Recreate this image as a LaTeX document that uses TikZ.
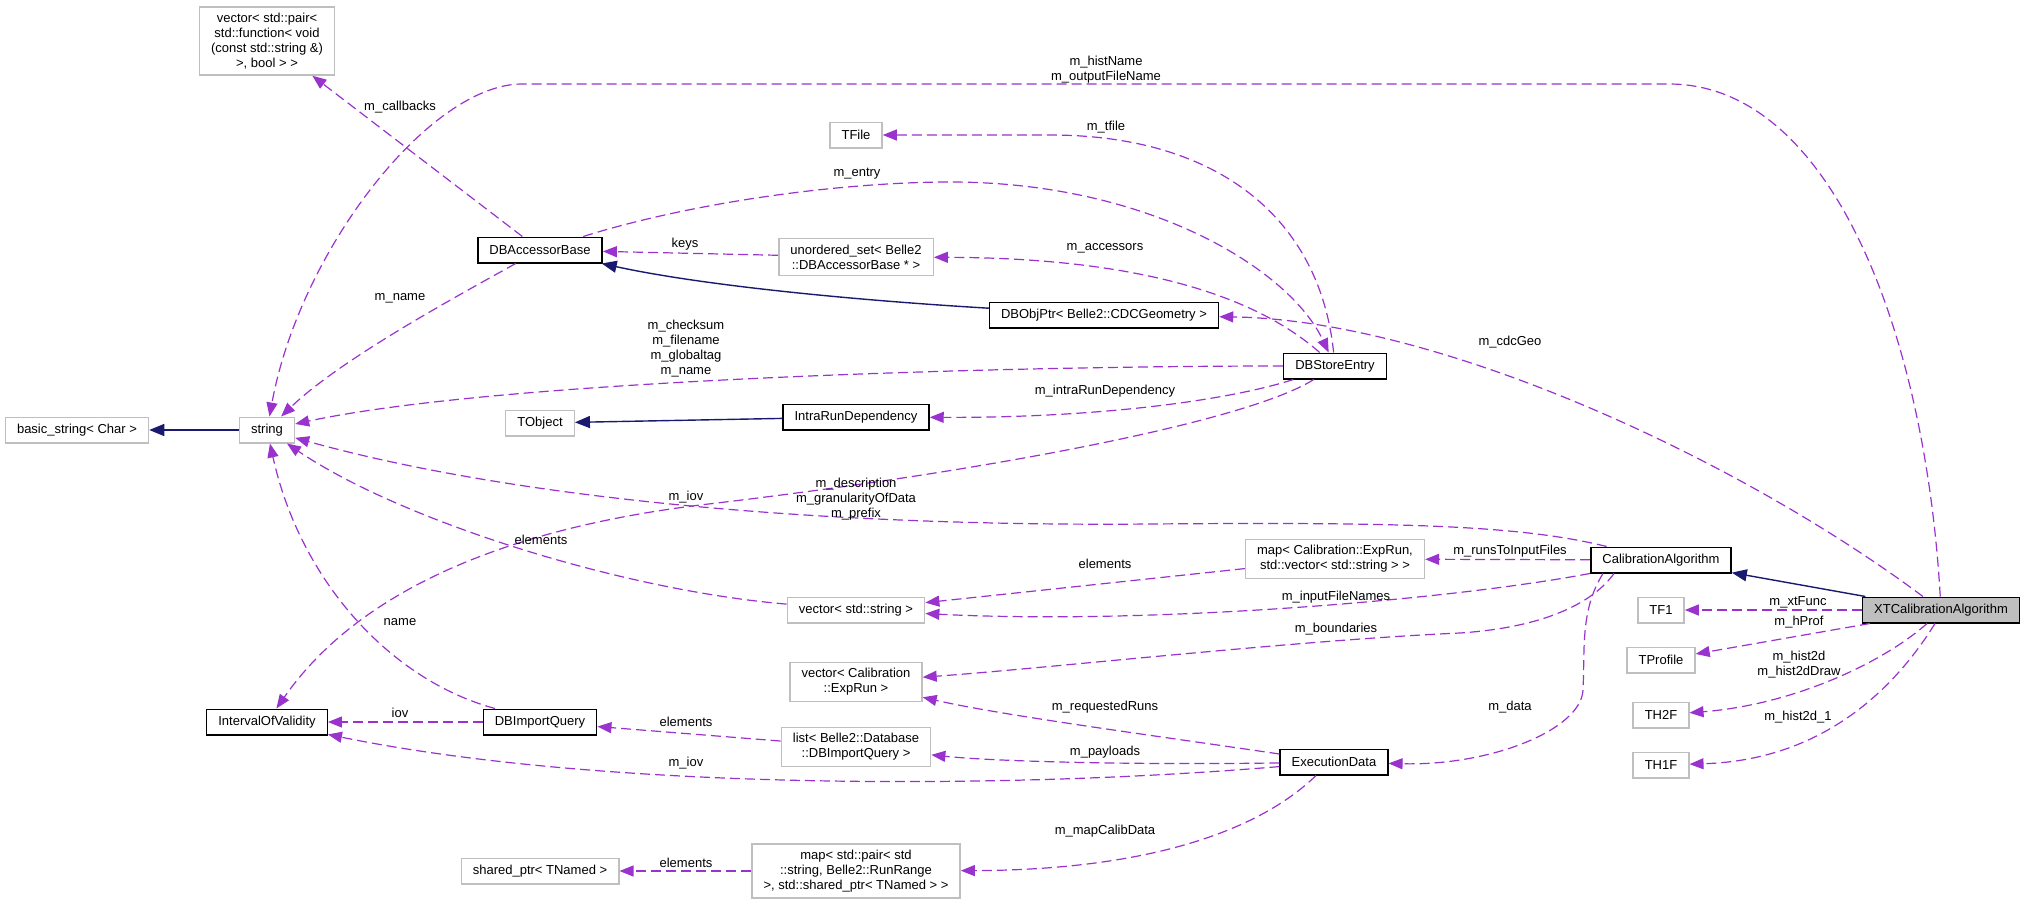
\documentclass[tikz,border=0pt]{standalone}
\usepackage{fontspec}
\setmainfont{Liberation Sans}
\usetikzlibrary{arrows.meta}
\definecolor{edgeuse}{HTML}{9A32CD}
\definecolor{edgeinh}{HTML}{191970}
\definecolor{boxgray}{HTML}{BFBFBF}

\begin{document}
\begin{tikzpicture}[x=0.5pt,y=-0.5pt,
  every node/.style={font=\fontsize{6.5}{7.5}\selectfont},
  cls/.style={draw=black,fill=white,line width=0.7pt,inner xsep=5.8pt,inner ysep=3pt,minimum height=12.8pt,align=center},
  ext/.style={cls,draw=boxgray},
  mainbox/.style={cls,fill=boxgray},
  uses/.style={color=edgeuse,line width=0.6pt,dash pattern=on 5pt off 2.5pt,-{Triangle[length=7pt,width=5.5pt]}},
  inh/.style={color=edgeinh,line width=0.7pt,-{Triangle[length=7.5pt,width=6pt]}},
  lbl/.style={inner sep=0pt,align=center}]
  \useasboundingbox (0,0) rectangle (2024,905);

  \node[ext] (vecpair) at (267,41) {vector< std::pair<\\ std::function< void\\ (const std::string \&)\\ >, bool > >};
  \node[ext] (tfile) at (856,135) {TFile};
  \node[cls] (dbab) at (540,250) {DBAccessorBase};
  \node[ext] (unset) at (856,257) {unordered\_set< Belle2\\ ::DBAccessorBase * >};
  \node[cls] (dbop) at (1104,315) {DBObjPtr< Belle2::CDCGeometry >};
  \node[cls] (dbse) at (1335,366) {DBStoreEntry};
  \node[ext] (bstr) at (77,430) {basic\_string< Char >};
  \node[ext] (str) at (267,430) {string};
  \node[ext] (tobj) at (540,423) {TObject};
  \node[cls] (ird) at (856,417) {IntraRunDependency};
  \node[ext] (mapexp) at (1335,559) {map< Calibration::ExpRun,\\ std::vector< std::string > >};
  \node[cls] (calg) at (1661,560) {CalibrationAlgorithm};
  \node[ext] (vstr) at (856,610) {vector< std::string >};
  \node[ext] (tf1) at (1661,610) {TF1};
  \node[mainbox] (xt) at (1941,610) {XTCalibrationAlgorithm};
  \node[ext] (tprof) at (1661,660) {TProfile};
  \node[ext] (vexp) at (856,682) {vector< Calibration\\ ::ExpRun >};
  \node[ext] (th2f) at (1661,715) {TH2F};
  \node[cls] (iov) at (267,722) {IntervalOfValidity};
  \node[cls] (dbiq) at (540,722) {DBImportQuery};
  \node[ext] (qlist) at (856,747) {list< Belle2::Database\\ ::DBImportQuery >};
  \node[cls] (exd) at (1334,762) {ExecutionData};
  \node[ext] (th1f) at (1661,765) {TH1F};
  \node[ext] (sptr) at (540,871) {shared\_ptr< TNamed >};
  \node[ext] (mappair) at (856,871) {map< std::pair< std\\ ::string, Belle2::RunRange\\ >, std::shared\_ptr< TNamed > >};

  \draw[inh] (str) -- (bstr);
  \draw[inh] (dbop) .. controls (850,300) and (700,285) .. (dbab);
  \draw[inh] (ird) -- (tobj);
  \draw[inh] (xt) -- (calg);

  \draw[uses] (xt) .. controls (1925,330) and (1830,84) .. (1669,84) -- (522,84) .. controls (430,84) and (300,250) .. (str);
  \draw[uses] (dbab) -- (vecpair);
  \draw[uses] (dbab) .. controls (450,300) and (340,360) .. (str);
  \draw[uses] (dbab) .. controls (700,200) and (850,182) .. (950,182) .. controls (1150,182) and (1290,270) .. (dbse);
  \draw[uses] (dbse) .. controls (1320,220) and (1220,135) .. (1050,135) -- (tfile);
  \draw[uses] (unset) -- (dbab);
  \draw[uses] (dbse) .. controls (1260,300) and (1150,258) .. (unset);
  \draw[uses] (xt) .. controls (1740,460) and (1440,320) .. (dbop);
  \draw[uses] (dbse) .. controls (1000,366) and (500,380) .. (str);
  \draw[uses] (dbse) .. controls (1230,400) and (1100,418) .. (ird);
  \draw[uses] (dbse) .. controls (1250,420) and (1000,470) .. (700,505) .. controls (580,520) and (380,560) .. (iov);
  \draw[uses] (calg) .. controls (1520,525) and (1400,522) .. (1150,524) .. controls (800,527) and (500,495) .. (str);
  \draw[uses] (vstr) .. controls (620,590) and (400,520) .. (str);
  \draw[uses] (mapexp) -- (vstr);
  \draw[uses] (calg) -- (mapexp);
  \draw[uses] (calg) .. controls (1450,600) and (1150,625) .. (vstr);
  \draw[uses] ([xshift=-23.5pt]calg.south) .. controls (1595,600) and (1550,627) .. (1460,633) .. controls (1300,640) and (1050,668) .. (vexp);
  \draw[uses] ([xshift=-29pt]calg.south) .. controls (1580,610) and (1585,650) .. (1583,690) .. controls (1581,730) and (1490,766) .. (exd);
  \draw[uses] (xt) -- (tf1);
  \draw[uses] ([xshift=4pt]xt.south west) -- (tprof);
  \draw[uses] ([xshift=-7pt]xt.south) .. controls (1880,665) and (1790,705) .. (th2f);
  \draw[uses] ([xshift=-3pt]xt.south) .. controls (1900,680) and (1830,760) .. (th1f);
  \draw[uses] (exd) .. controls (1150,735) and (1000,715) .. (vexp);
  \draw[uses] (exd) .. controls (1150,765) and (1000,762) .. (qlist);
  \draw[uses] (exd) .. controls (1000,790) and (600,790) .. (iov);
  \draw[uses] ([xshift=-9pt]exd.south) .. controls (1260,830) and (1150,870) .. (mappair);
  \draw[uses] (qlist) -- (dbiq);
  \draw[uses] (dbiq) -- (iov);
  \draw[uses] ([xshift=-22.5pt]dbiq.north) .. controls (390,680) and (300,580) .. (str);
  \draw[uses] (mappair) -- (sptr);

  \node[lbl] (l-histname) at (1106,70) {m\_histName\\m\_outputFileName};
  \node[lbl] (l-callbacks) at (400,107) {m\_callbacks};
  \node[lbl] (l-name) at (400,298) {m\_name};
  \node[lbl] (l-entry) at (857,174) {m\_entry};
  \node[lbl] (l-tfile) at (1106,127) {m\_tfile};
  \node[lbl] (l-keys) at (685,244) {keys};
  \node[lbl] (l-accessors) at (1105,248) {m\_accessors};
  \node[lbl] (l-cdcgeo) at (1510,342) {m\_cdcGeo};
  \node[lbl] (l-checksum) at (686,349) {m\_checksum\\m\_filename\\m\_globaltag\\m\_name};
  \node[lbl] (l-intrarun) at (1105,391) {m\_intraRunDependency};
  \node[lbl] (l-iov) at (686,497) {m\_iov};
  \node[lbl] (l-description) at (856,499) {m\_description\\m\_granularityOfData\\m\_prefix};
  \node[lbl] (l-elemstr) at (541,540) {elements};
  \node[lbl] (l-elemvec) at (1105,564) {elements};
  \node[lbl] (l-runs) at (1510,551) {m\_runsToInputFiles};
  \node[lbl] (l-inputfiles) at (1336,597) {m\_inputFileNames};
  \node[lbl] (l-boundaries) at (1336,629) {m\_boundaries};
  \node[lbl] (l-data) at (1510,707) {m\_data};
  \node[lbl] (l-xtfunc) at (1798,602) {m\_xtFunc};
  \node[lbl] (l-hprof) at (1799,622) {m\_hProf};
  \node[lbl] (l-hist2d) at (1799,665) {m\_hist2d\\m\_hist2dDraw};
  \node[lbl] (l-hist2d1) at (1798,717) {m\_hist2d\_1};
  \node[lbl] (l-reqruns) at (1105,707) {m\_requestedRuns};
  \node[lbl] (l-payloads) at (1105,752) {m\_payloads};
  \node[lbl] (l-exdiov) at (686,763) {m\_iov};
  \node[lbl] (l-mapcalib) at (1105,831) {m\_mapCalibData};
  \node[lbl] (l-elemquery) at (686,722) {elements};
  \node[lbl] (l-iovq) at (400,713) {iov};
  \node[lbl] (l-nameq) at (400,622) {name};
  \node[lbl] (l-elemptr) at (686,863) {elements};
\end{tikzpicture}
\end{document}
